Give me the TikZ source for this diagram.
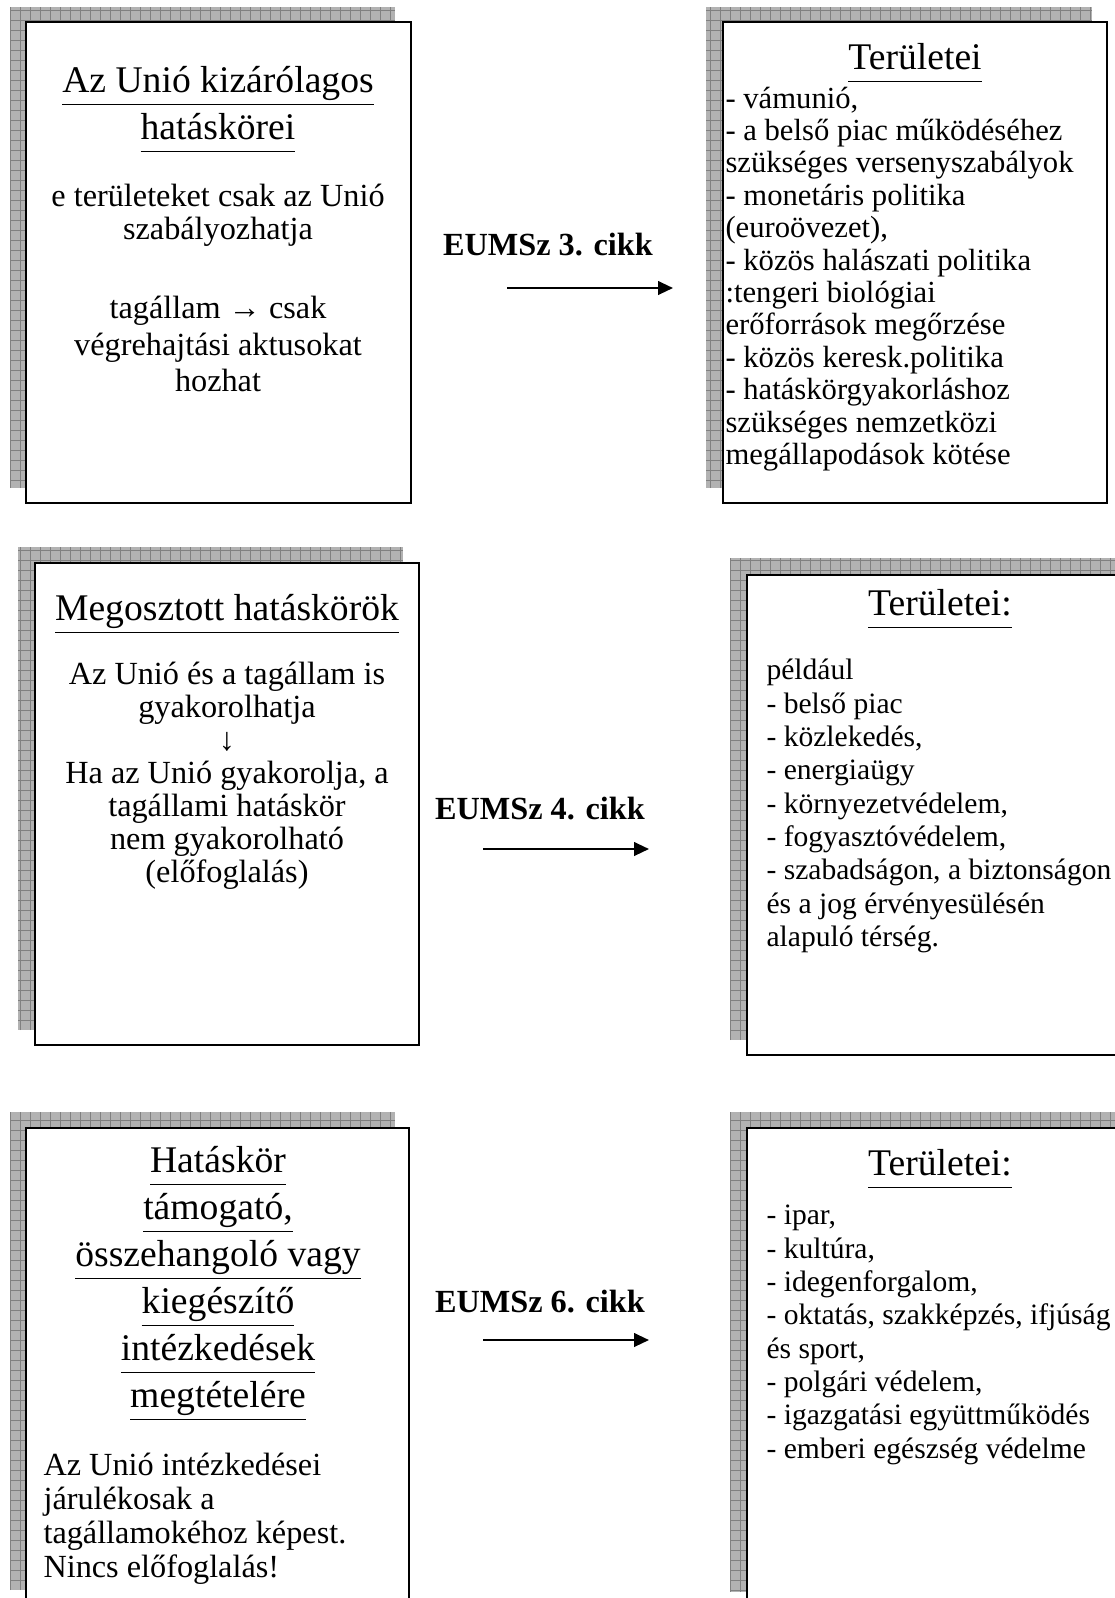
\documentclass[tikz,border=0pt]{standalone}
\usepackage{fontspec}
\setmainfont{Liberation Serif}
\usetikzlibrary{arrows.meta}

\newcommand{\uln}[1]{$\underline{\hbox{#1\vphantom{gy}}}$}
\newcommand{\shadebox}[4]{%
  \fill[shade] (#1,#2) rectangle (#3,#4);
  \begin{scope}
    \clip (#1,#2) rectangle (#3,#4);
    \draw[gridline, step=3.72pt] (#1,#2) grid (#3,#4);
  \end{scope}}

\begin{document}
\begin{tikzpicture}[
      x=0.372pt, y=-0.372pt,
      shade/.style={fill=black!30},
      gridline/.style={draw=black!50, line width=0.3pt},
      area/.style={draw=black, line width=1pt, fill=white},
      heading/.style={font=\fontsize{14}{17.5}\selectfont, align=center, inner sep=0pt},
      body/.style={font=\fontsize{12}{12.3}\selectfont, inner sep=0pt},
      items/.style={font=\fontsize{11}{12.4}\selectfont, align=left, anchor=west, inner sep=0pt},
      cikk/.style={font=\bfseries\fontsize{12}{14}\selectfont, inner sep=0pt},
      link/.style={line width=0.8pt, -{Triangle[length=5.5pt,width=5pt]}}
    ]
      \useasboundingbox (0,0) rectangle (1115,1598);
      \clip (0,0) rectangle (1115,1598);

      % boxes with shadow
      \shadebox{10}{7}{395}{488}
      \draw[area] (26,22) rectangle (411,503);
      \shadebox{706}{7}{1092}{488}
      \draw[area] (723,22) rectangle (1107,503);
      \shadebox{18}{547}{403}{1030}
      \draw[area] (35,563) rectangle (419,1045);
      \shadebox{730}{558}{1120}{1040}
      \draw[area] (747,575) rectangle (1140,1055);
      \shadebox{10}{1112}{395}{1590}
      \draw[area] (26,1128) rectangle (409,1620);
      \shadebox{730}{1112}{1120}{1592}
      \draw[area] (747,1128) rectangle (1140,1620);

      % exclusive
      \node[heading] (excl) at (218,110) {\uln{Az Unió kizárólagos}\\\uln{hatáskörei}};
      \node[body, align=center] (exclnote) at (218,215) {e területeket csak az Unió\\szabályozhatja};
      \node[body, align=center, font=\fontsize{12}{13.6}\selectfont] (exclact) at (218,344) {tagállam → csak\\végrehajtási aktusokat\\hozhat};
      \node[heading] (area1) at (915,63) {\uln{Területei}};
      \node[items, font=\fontsize{11.4}{12.05}\selectfont] (list1) at (725,279) {- vámunió,\\- a belső piac működéséhez\\szükséges versenyszabályok\\- monetáris politika\\(euroövezet),\\- közös halászati politika\\:tengeri biológiai\\erőforrások megőrzése\\- közös keresk.politika\\- hatáskörgyakorláshoz\\szükséges nemzetközi\\megállapodások kötése};

      % shared
      \node[heading] (shared) at (227,614) {\uln{Megosztott hatáskörök}};
      \node[body, align=center] (sharednote) at (227,776) {Az Unió és a tagállam is\\gyakorolhatja\\↓\\Ha az Unió gyakorolja, a\\tagállami hatáskör\\nem gyakorolható\\(előfoglalás)};
      \node[heading] (area2) at (940,609) {\uln{Területei:}};
      \node[items] (list2) at (766,806) {például\\- belső piac\\- közlekedés,\\- energiaügy\\- környezetvédelem,\\- fogyasztóvédelem,\\- szabadságon, a biztonságon\\és a jog érvényesülésén\\alapuló térség.};

      % supporting
      \node[heading] (support) at (218,1284) {\uln{Hatáskör}\\\uln{támogató,}\\\uln{összehangoló vagy}\\\uln{kiegészítő}\\\uln{intézkedések}\\\uln{megtételére}};
      \node[body, align=left, anchor=west, font=\fontsize{12}{12.6}\selectfont] (supportnote) at (43,1519) {Az Unió intézkedései\\járulékosak a\\tagállamokéhoz képest.\\Nincs előfoglalás!};
      \node[heading] (area3) at (940,1169) {\uln{Területei:}};
      \node[items] (list3) at (766,1335) {- ipar,\\- kultúra,\\- idegenforgalom,\\- oktatás, szakképzés, ifjúság\\és sport,\\- polgári védelem,\\- igazgatási együttműködés\\- emberi egészség védelme};

      % articles
      \node[cikk] (art3) at (548,245) {EUMSz 3. cikk};
      \node[cikk] (art4) at (540,809) {EUMSz 4. cikk};
      \node[cikk] (art6) at (540,1302) {EUMSz 6. cikk};
      \coordinate (a3s) at (507,288);  \coordinate (a3e) at (673,288);
      \coordinate (a4s) at (483,849);  \coordinate (a4e) at (649,849);
      \coordinate (a6s) at (483,1340); \coordinate (a6e) at (649,1340);
      \draw[link] (a3s) -- (a3e);
      \draw[link] (a4s) -- (a4e);
      \draw[link] (a6s) -- (a6e);
    \end{tikzpicture}
\end{document}
